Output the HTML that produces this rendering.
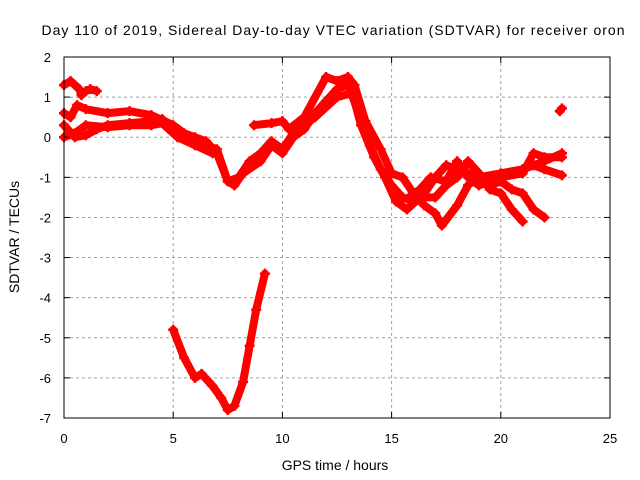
<!DOCTYPE html>
<html><head><meta charset="utf-8"><style>
body{margin:0;background:#fff;}
svg{display:block;font-family:"Liberation Sans",sans-serif;}
</style></head><body>
<svg id="chart" width="640" height="480">
<rect width="640" height="480" fill="#fff"/>
<text x="333" y="35" font-size="14" text-anchor="middle" textLength="583">Day 110 of 2019, Sidereal Day-to-day VTEC variation (SDTVAR) for receiver oron</text>
<text x="335" y="470" font-size="14" text-anchor="middle">GPS time / hours</text>
<text transform="translate(19,237) rotate(-90)" font-size="14" text-anchor="middle">SDTVAR / TECUs</text>
<g id="grid"></g>
<g id="series"></g>
<rect x="64" y="57" width="546" height="361" fill="none" stroke="#000" stroke-width="1"/>
<g id="ticks"></g>
</svg>
<script>
const xTicks=[0,5,10,15,20,25];
const yTicks=[2,1,0,-1,-2,-3,-4,-5,-6,-7];
const trackA_h=[0,0.3,0.7,0.8,1.0,1.2,1.5];
const trackA_v=[1.3,1.4,1.2,1.05,1.15,1.2,1.15];
const trackB_h=[0,0.3,0.6,1,2,3,4,5,5.5,6,6.5,7,7.5,7.8,8.2,9,9.5,10,10.5,11,11.5,12,12.5,13,13.5,14,14.5,15,15.5,16,16.5,17,17.5,18,18.5,19,20,21,22,22.8];
const trackB_v=[0.6,0.5,0.8,0.7,0.6,0.65,0.55,0.3,0.1,0,-0.1,-0.4,-1.1,-1.2,-0.9,-0.6,-0.2,-0.4,0,0.2,0.6,0.9,1.2,1.3,0.6,-0.2,-0.8,-1.2,-1.5,-1.6,-1.4,-1.0,-0.7,-0.8,-0.9,-1.0,-0.9,-0.8,-0.6,-0.4];
const trackC_h=[0,0.5,1,1.5,2,3,4,4.5,5,5.5,6,7,7.5,8,8.5,9,9.5,10,10.5,11.5,12.5,13.2,13.6,14.2,14.7,15.2,15.7,16.3,17,17.5,18,18.5,19,19.5,20,20.5,21];
const trackC_v=[0.3,0,0.05,0.2,0.3,0.35,0.4,0.45,0.2,0,-0.1,-0.3,-1.1,-1.0,-0.6,-0.4,-0.1,-0.3,0.1,0.5,1.0,1.1,0.3,-0.5,-1.0,-1.6,-1.8,-1.5,-1.5,-1.2,-1.0,-0.6,-0.9,-1.3,-1.4,-1.8,-2.1];
const trackD_h=[0,0.5,1,2,3,4,4.5,5.2,6,6.8];
const trackD_v=[0,0.1,0.3,0.25,0.3,0.3,0.35,0,-0.2,-0.4];
const trackE_h=[8.7,9.5,10,10.3,11,12,12.5,13,13.3,13.8,14.5,15,15.5,16,16.5,17,17.3,18,18.5,19,19.5,20,20.5,21,21.5,22];
const trackE_v=[0.3,0.35,0.4,0.2,0.5,1.5,1.4,1.5,1.3,0.4,-0.3,-0.9,-1.0,-1.4,-1.7,-1.9,-2.2,-1.7,-1.2,-0.9,-1.2,-1.1,-1.3,-1.4,-1.8,-2.0];
const trackF_h=[15.8,16.3,16.8,17.5,18,18.5,19,19.5,20,21,21.5,22,22.8];
const trackF_v=[-1.5,-1.3,-1.0,-1.1,-0.6,-1.0,-1.2,-1.1,-1.0,-0.9,-0.4,-0.5,-0.5];
const trackG_h=[20,21,21.5,22,22.8];
const trackG_v=[-1.0,-0.8,-0.7,-0.8,-0.95];
const trackH_h=[22.7,22.8];
const trackH_v=[0.65,0.72];
const trackLow_h=[5,5.5,6,6.3,6.8,7.2,7.5,7.8,8.2,8.5,8.8,9.2];
const trackLow_v=[-4.8,-5.5,-6.0,-5.9,-6.2,-6.5,-6.8,-6.7,-6.1,-5.2,-4.3,-3.4];

const X0=64,X1=610,Y0=418,Y1=57;
const xs=h=>X0+h/25*(X1-X0);
const ys=v=>Y0-(v+7)/9*(Y0-Y1);
const NS="http://www.w3.org/2000/svg";
const mk=(t,a,p)=>{const e=document.createElementNS(NS,t);for(const k in a)e.setAttribute(k,a[k]);p.appendChild(e);return e;};
const grid=document.getElementById('grid'),ticks=document.getElementById('ticks'),ser=document.getElementById('series');
xTicks.forEach(t=>{const x=xs(t);
 if(t>0&&t<25){const l=mk('line',{x1:x,x2:x,y1:Y1,y2:Y0,stroke:'#a0a0a0','stroke-dasharray':'3,3'},grid);
 
 }
 mk('line',{x1:x,x2:x,y1:Y0,y2:Y0-6,stroke:'#000'},ticks);mk('line',{x1:x,x2:x,y1:Y1,y2:Y1+6,stroke:'#000'},ticks);
 const tx=mk('text',{x:x,y:443,'font-size':13,'text-anchor':'middle'},ticks);tx.textContent=t;
 
 });
yTicks.forEach(t=>{const y=ys(t);
 if(t>-7&&t<2){const l=mk('line',{x1:X0,x2:X1,y1:y,y2:y,stroke:'#a0a0a0','stroke-dasharray':'3,3'},grid);
 
 }
 mk('line',{x1:X0,x2:X0+6,y1:y,y2:y,stroke:'#000'},ticks);mk('line',{x1:X1,x2:X1-6,y1:y,y2:y,stroke:'#000'},ticks);
 const tx=mk('text',{x:51,y:y+5,'font-size':13,'text-anchor':'end'},ticks);tx.textContent=t;
 
 });
const tracks=[[trackA_h,trackA_v],[trackB_h,trackB_v],[trackC_h,trackC_v],[trackD_h,trackD_v],[trackE_h,trackE_v],[trackF_h,trackF_v],[trackG_h,trackG_v],[trackH_h,trackH_v],[trackLow_h,trackLow_v]];
tracks.forEach(([H,V])=>{
 const pts=H.map((h,i)=>xs(h)+','+ys(V[i])).join(' ');
 if(H.length>1){const pl=mk('polyline',{points:pts,fill:'none',stroke:'#f00','stroke-width':8,'stroke-linejoin':'round','stroke-linecap':'round'},ser);
 
 }
 H.forEach((h,i)=>{const x=xs(h),y=ys(V[i]);
  const p=mk('path',{d:`M${x-5},${y}H${x+5}M${x},${y-5}V${y+5}`,stroke:'#f00','stroke-width':2.5},ser);
  
  });
});
</script>
</body></html>
